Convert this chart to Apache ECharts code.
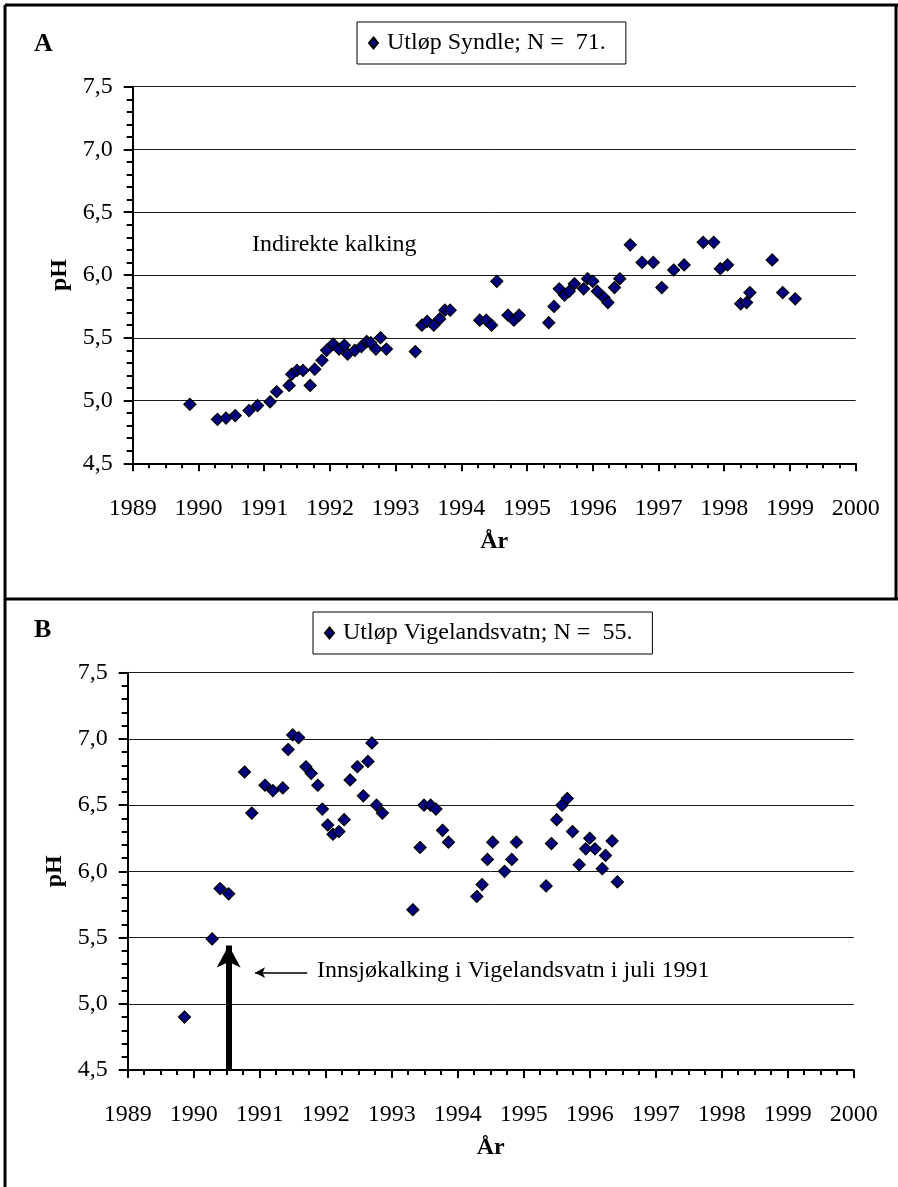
<!DOCTYPE html>
<html>
<head>
<meta charset="utf-8">
<script src="https://cdn.jsdelivr.net/npm/echarts@6/dist/echarts.min.js"></script>
<style>
  html, body { margin: 0; padding: 0; background: #fff; }
  #chart { width: 898px; height: 1187px; }
</style>
</head>
<body>
<div id="chart"></div>
<script>
const FONT = '"Liberation Serif", "Times New Roman", serif';

// Utløp Syndle (A)
const yearsA = [
  1989.87, 1990.29, 1990.42, 1990.56, 1990.77, 1990.90, 1991.09, 1991.19, 1991.38, 1991.42,
  1991.50, 1991.59, 1991.70, 1991.77, 1991.88, 1991.95, 1992.05, 1992.14, 1992.22, 1992.27,
  1992.38, 1992.48, 1992.56, 1992.62, 1992.70, 1992.77, 1992.86, 1993.30, 1993.40, 1993.48,
  1993.58, 1993.67, 1993.75, 1993.83, 1994.28, 1994.38, 1994.46, 1994.54, 1994.71, 1994.80,
  1994.88, 1995.33, 1995.41, 1995.49, 1995.57, 1995.64, 1995.72, 1995.86, 1995.92, 1996.00,
  1996.07, 1996.17, 1996.23, 1996.33, 1996.41, 1996.57, 1996.75, 1996.92, 1997.05, 1997.23,
  1997.39, 1997.68, 1997.84, 1997.94, 1998.05, 1998.25, 1998.34, 1998.39, 1998.73, 1998.89,
  1999.08
];
const phA = [
  4.97, 4.85, 4.86, 4.88, 4.92, 4.96, 4.99, 5.07, 5.12, 5.21,
  5.24, 5.24, 5.12, 5.25, 5.32, 5.40, 5.45, 5.41, 5.44, 5.37,
  5.40, 5.43, 5.47, 5.46, 5.41, 5.50, 5.41, 5.39, 5.60, 5.63,
  5.60, 5.65, 5.72, 5.72, 5.64, 5.64, 5.60, 5.95, 5.68, 5.64,
  5.68, 5.62, 5.75, 5.89, 5.84, 5.87, 5.93, 5.89, 5.97, 5.95,
  5.87, 5.82, 5.78, 5.90, 5.97, 6.24, 6.10, 6.10, 5.90, 6.04,
  6.08, 6.26, 6.26, 6.05, 6.08, 5.77, 5.78, 5.86, 6.12, 5.86,
  5.81
];

// Utløp Vigelandsvatn (B)
const yearsB = [
  1989.86, 1990.28, 1990.40, 1990.53, 1990.77, 1990.88, 1991.08, 1991.20, 1991.35, 1991.43,
  1991.50, 1991.59, 1991.70, 1991.78, 1991.88, 1991.95, 1992.03, 1992.11, 1992.20, 1992.28,
  1992.37, 1992.48, 1992.57, 1992.64, 1992.70, 1992.77, 1992.86, 1993.32, 1993.43, 1993.49,
  1993.59, 1993.67, 1993.77, 1993.86, 1994.29, 1994.37, 1994.45, 1994.53, 1994.71, 1994.82,
  1994.89, 1995.34, 1995.42, 1995.50, 1995.58, 1995.66, 1995.74, 1995.84, 1995.94, 1996.00,
  1996.08, 1996.19, 1996.24, 1996.34, 1996.42
];
const phB = [
  4.90, 5.49, 5.87, 5.83, 6.75, 6.44, 6.65, 6.61, 6.63, 6.92,
  7.03, 7.01, 6.79, 6.74, 6.65, 6.47, 6.35, 6.28, 6.30, 6.39,
  6.69, 6.79, 6.57, 6.83, 6.97, 6.50, 6.44, 5.71, 6.18, 6.50,
  6.50, 6.47, 6.31, 6.22, 5.81, 5.90, 6.09, 6.22, 6.00, 6.09,
  6.22, 5.89, 6.21, 6.39, 6.50, 6.55, 6.30, 6.05, 6.17, 6.25,
  6.17, 6.02, 6.12, 6.23, 5.92
];

const nameA = 'Utløp Syndle; N =  71.';
const nameB = 'Utløp Vigelandsvatn; N =  55.';

// arrow annotation in B: lake liming July 1991
const limingYear = 1990.53;
const limingArrow = [4.5, 5.44];
const noteArrowX = [1991.72, 1990.93];
const noteArrowY = 5.235;

const zip = (xs, ys) => xs.map((x, i) => [x, ys[i]]);

const chart = echarts.init(document.getElementById('chart'));

function xAxisOf(gridIndex) {
  return {
    gridIndex,
    type: 'value',
    min: 1989,
    max: 2000,
    interval: 1,
    name: 'År',
    nameLocation: 'middle',
    nameGap: 66,
    nameTextStyle: { fontFamily: FONT, fontSize: 24, fontWeight: 'bold', color: '#000' },
    axisLine: { lineStyle: { color: '#000', width: 2 } },
    axisTick: { length: 8, lineStyle: { color: '#000', width: 2 } },
    minorTick: { show: true, splitNumber: 4, length: 5, lineStyle: { color: '#000', width: 2 } },
    splitLine: { show: false },
    axisLabel: {
      margin: 33,
      fontFamily: FONT, fontSize: 24, color: '#000',
      formatter: (v) => String(v)
    }
  };
}

function yAxisOf(gridIndex) {
  return {
    gridIndex,
    type: 'value',
    min: 4.5,
    max: 7.5,
    interval: 0.5,
    name: 'pH',
    nameLocation: 'middle',
    nameRotate: 90,
    nameGap: 60,
    nameTextStyle: { fontFamily: FONT, fontSize: 24, fontWeight: 'bold', color: '#000' },
    axisLine: { show: true, lineStyle: { color: '#000', width: 2 } },
    axisTick: { show: true, length: 9, lineStyle: { color: '#000', width: 2 } },
    minorTick: { show: true, splitNumber: 5, length: 6, lineStyle: { color: '#000', width: 2 } },
    splitLine: { show: true, lineStyle: { color: '#1a1a1a', width: 1 } },
    axisLabel: {
      margin: 20,
      fontFamily: FONT, fontSize: 24, color: '#000',
      formatter: (v) => v.toFixed(1).replace('.', ',')
    }
  };
}

const markerStyle = { color: '#000080', borderColor: '#000', borderWidth: 1.2, opacity: 1 };

const legendBase = {
  orient: 'horizontal',
  borderColor: '#000',
  borderWidth: 1,
  itemWidth: 9,
  itemHeight: 11,
  padding: [9, 20, 9, 11],
  textStyle: { fontFamily: FONT, fontSize: 24, color: '#000', padding: [0, 0, 0, 4] }
};

chart.setOption({
  animation: false,
  textStyle: { fontFamily: FONT },
  grid: [
    { left: 132.7, right: 42.3, top: 86.7, height: 376.6 },
    { left: 127.7, right: 44.3, top: 672.7, height: 397.3 }
  ],
  xAxis: [xAxisOf(0), xAxisOf(1)],
  yAxis: [yAxisOf(0), yAxisOf(1)],
  legend: [
    Object.assign({}, legendBase, { left: 357, top: 22, data: [nameA] }),
    Object.assign({}, legendBase, { left: 313, top: 612, data: [nameB] })
  ],
  series: [
    {
      name: nameA,
      type: 'scatter',
      xAxisIndex: 0, yAxisIndex: 0,
      symbol: 'diamond',
      symbolSize: 12,
      itemStyle: markerStyle,
      data: zip(yearsA, phA)
    },
    {
      name: nameB,
      type: 'scatter',
      xAxisIndex: 1, yAxisIndex: 1,
      symbol: 'diamond',
      symbolSize: 12,
      itemStyle: markerStyle,
      data: zip(yearsB, phB),
      markLine: {
        silent: true,
        animation: false,
        label: { show: false },
        data: [
          [
            { coord: [limingYear, limingArrow[0]], symbol: 'none' },
            { coord: [limingYear, limingArrow[1]], symbol: 'arrow', symbolSize: [18, 22],
              lineStyle: { color: '#000', width: 6, type: 'solid' } }
          ],
          [
            { coord: [noteArrowX[0], noteArrowY], symbol: 'none' },
            { coord: [noteArrowX[1], noteArrowY], symbol: 'arrow', symbolSize: [8, 10],
              lineStyle: { color: '#000', width: 1.5, type: 'solid' } }
          ]
        ],
        lineStyle: { color: '#000', type: 'solid' }
      }
    }
  ],
  graphic: [
    // frame
    { type: 'line', shape: { x1: 5, y1: 5, x2: 898, y2: 5 }, style: { stroke: '#000', lineWidth: 3 } },
    { type: 'line', shape: { x1: 5, y1: 5, x2: 5, y2: 1187 }, style: { stroke: '#000', lineWidth: 3 } },
    { type: 'line', shape: { x1: 896, y1: 5, x2: 896, y2: 599 }, style: { stroke: '#000', lineWidth: 3 } },
    { type: 'line', shape: { x1: 5, y1: 599, x2: 898, y2: 599 }, style: { stroke: '#000', lineWidth: 3 } },
    // panel letters
    { type: 'text', left: 34, top: 31, style: { text: 'A', font: 'bold 26px ' + FONT, fill: '#000' } },
    { type: 'text', left: 34, top: 617, style: { text: 'B', font: 'bold 26px ' + FONT, fill: '#000' } },
    // annotations
    { type: 'text', left: 252, top: 233, style: { text: 'Indirekte kalking', font: '24px ' + FONT, fill: '#000' } },
    { type: 'text', left: 317, top: 959, style: { text: 'Innsjøkalking i Vigelandsvatn i juli 1991', font: '24px ' + FONT, fill: '#000' } }
  ]
});
</script>
</body>
</html>
